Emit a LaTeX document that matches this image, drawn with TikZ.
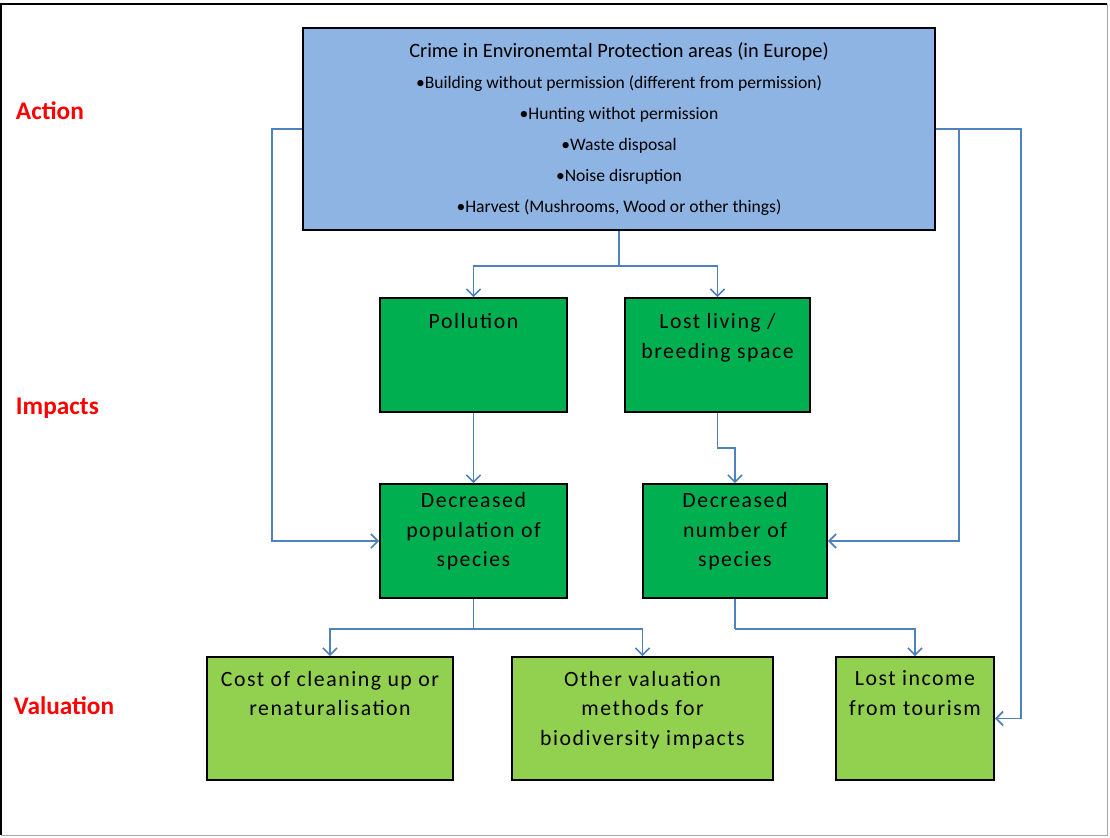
\documentclass[tikz,border=0pt]{standalone}
\usepackage{fontspec}
\setmainfont{Carlito}
\newfontfamily\boxfont[LetterSpace=7]{Carlito}
\usetikzlibrary{arrows,arrows.meta,positioning,calc}
\definecolor{boxblue}{HTML}{8EB4E3}
\definecolor{boxgreen}{HTML}{00B050}
\definecolor{boxlime}{HTML}{92D050}
\definecolor{linkblue}{HTML}{4F81BD}
\begin{document}
\begin{tikzpicture}[x=0.025cm,y=-0.025cm,>={Straight Barb[length=5pt,width=10pt]},
    box/.style={draw=black,line width=1.2pt,inner sep=0pt},
    link/.style={draw=linkblue,line width=1.2pt},
    stage/.style={text=red,anchor=west,font=\fontsize{18}{20}\selectfont\bfseries},
    intext/.style={anchor=north,align=center,yshift=-8pt,font=\boxfont\fontsize{15.5}{21}\selectfont}]
\useasboundingbox (0,0) rectangle (1110,837);
\draw[gray!70] (1107,4) -- (1107,835) -- (1,835);
\draw[black,line width=1.2pt] (1,835) -- (1,4) -- (1107,4);

% stages
\node[stage] (action) at (11,111) {Action};
\node[stage] (impacts) at (11,408) {Impacts};
\node[stage] (valuation) at (9,706) {Valuation};

% action box
\node[box,fill=boxblue,minimum width=15.8cm,minimum height=5.05cm,align=center,
      font=\fontsize{12.5}{22}\selectfont] (crime) at (619,129)
  {{\fontsize{14.5}{22}\selectfont Crime in Environemtal Protection areas (in Europe)}\\
   •Building without  permission (different from permission)\\
   •Hunting withot permission\\
   •Waste disposal\\
   •Noise disruption\\
   •Harvest (Mushrooms, Wood or other things)};

% impacts
\node[box,fill=boxgreen,minimum width=4.675cm,minimum height=2.85cm,
      label={[intext]north:Pollution}] (pollution) at (473.5,355) {};
\node[box,fill=boxgreen,minimum width=4.625cm,minimum height=2.85cm,
      label={[intext]north:Lost living /\\breeding space}] (lost) at (717.5,355) {};
\node[box,fill=boxgreen,minimum width=4.675cm,minimum height=2.85cm,
      label={[intext,yshift=5pt]north:Decreased\\population of\\species}] (decpop) at (473.5,541) {};
\node[box,fill=boxgreen,minimum width=4.6cm,minimum height=2.85cm,
      label={[intext,yshift=5pt]north:Decreased\\number of\\species}] (decnum) at (735,541) {};

% valuation
\node[box,fill=boxlime,minimum width=6.15cm,minimum height=3.075cm,
      label={[intext,yshift=1pt]north:Cost of cleaning up or\\renaturalisation}] (cost) at (330,718.5) {};
\node[box,fill=boxlime,minimum width=6.525cm,minimum height=3.075cm,
      label={[intext,yshift=1pt]north:Other valuation\\methods for\\biodiversity  impacts}] (other) at (642.5,718.5) {};
\node[box,fill=boxlime,minimum width=3.95cm,minimum height=3.075cm,
      label={[intext,yshift=1pt]north:Lost income\\from tourism}] (income) at (915,718.5) {};

% connectors
\coordinate (split) at ($(crime.south)+(0,35)$);
\coordinate (leftrun) at ($(crime.west)+(-30,0)$);
\coordinate (rightrun) at ($(crime.east)+(23,0)$);
\coordinate (farright) at ($(crime.east)+(85,0)$);
\coordinate (lostbend) at ($(lost.south)+(0,35)$);
\coordinate (popjoin) at ($(decpop.south)+(0,30)$);
\coordinate (numjoin) at ($(decnum.south)+(0,30)$);

\draw[link] (crime.south) -- (split);
\draw[link,->] (split) -| (pollution.north);
\draw[link,->] (split) -| (lost.north);
\draw[link,->] (crime.west) -- (leftrun) |- (decpop.west);
\draw[link,->] (crime.east) -- (rightrun) |- (decnum.east);
\draw[link,->] (rightrun) -- (farright) |- (income.east);
\draw[link,->] (pollution.south) -- (decpop.north);
\draw[link,->] (lost.south) -- (lostbend) -| (decnum.north);

\draw[link] (decpop.south) -- (popjoin);
\draw[link] (decnum.south) -- (numjoin);
\draw[link,->] (popjoin) -| (cost.north);
\draw[link,->] (popjoin) -| (other.north);
\draw[link,->] (numjoin) -| (income.north);
\end{tikzpicture}
\end{document}
